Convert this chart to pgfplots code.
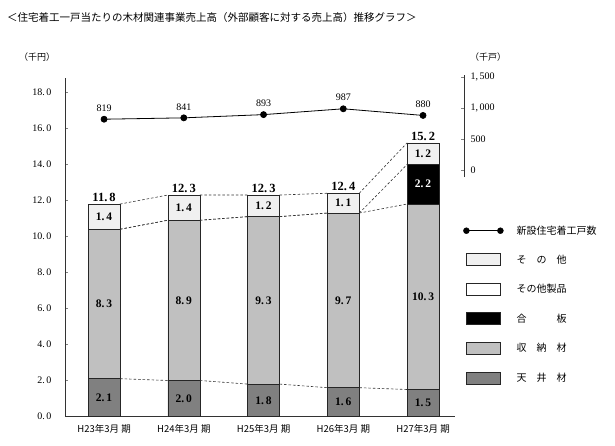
\documentclass[border=0pt]{standalone}
\usepackage{fontspec}
\setmainfont{Liberation Serif}
\newfontfamily\jp{Noto Sans CJK JP}
\usepackage{pgfplots}
\pgfplotsset{compat=1.18}
\definecolor{cTen}{HTML}{808080}
\definecolor{cShu}{HTML}{C0C0C0}
\definecolor{cSono}{HTML}{F0F0F0}
\begin{document}
\begin{tikzpicture}[x=1pt,y=1pt]
\path[use as bounding box] (0,0) rectangle (615,445);
% title and unit labels
\node[anchor=west,inner sep=0pt,font=\jp\fontsize{10.5}{12}\selectfont] at (7,427) {＜住宅着工一戸当たりの木材関連事業売上高（外部顧客に対する売上高）推移グラフ＞};
\node[anchor=center,inner sep=0pt,font=\jp\fontsize{9}{11}\selectfont] at (37,388) {（千円）};
\node[anchor=center,inner sep=0pt,font=\jp\fontsize{9}{11}\selectfont] at (488,388) {（千戸）};

% ---- stacked bars ----
\begin{axis}[
  at={(65pt,28.5pt)}, anchor=south west, scale only axis,
  width=390pt, height=338.5pt,
  xmin=-0.49, xmax=4.40, ymin=0, ymax=18.8,
  axis x line*=bottom, axis y line*=left,
  axis line style={black!80, line width=0.6pt},
  ybar stacked, bar width=32pt,
  tick align=inside, major tick length=3pt,
  ytick={0,2,...,18},
  yticklabel={\pgfmathprintnumber[fixed,fixed zerofill,precision=1,assume math mode=true,set decimal separator={.\,}]{\tick}},
  yticklabel style={font=\fontsize{10}{12}\selectfont, xshift=-10pt},
  xtick={0,1,2,3,4},
  xticklabels={H23年3月 期,H24年3月 期,H25年3月 期,H26年3月 期,H27年3月 期},
  xticklabel style={font=\jp\fontsize{9.5}{11}\selectfont, yshift=-4pt},
  xtick style={draw=none},
  every axis plot/.append style={draw=black!85, line width=0.6pt},
]
\addplot[fill=cTen] coordinates {(0,2.1) (1,2.0) (2,1.8) (3,1.6) (4,1.5)};
\addplot[fill=cShu] coordinates {(0,8.3) (1,8.9) (2,9.3) (3,9.7) (4,10.3)};
\addplot[fill=black] coordinates {(0,0) (1,0) (2,0) (3,0) (4,2.2)};
\addplot[fill=white] coordinates {(0,0) (1,0) (2,0) (3,0) (4,0)};
\addplot[fill=cSono] coordinates {(0,1.4) (1,1.4) (2,1.2) (3,1.1) (4,1.2)};
\end{axis}

% ---- overlay: series lines, labels, legend ----
\begin{axis}[
  at={(65pt,28.5pt)}, anchor=south west, scale only axis,
  width=390pt, height=338.5pt,
  xmin=-0.49, xmax=4.40, ymin=0, ymax=18.8,
  hide axis, clip=false,
  legend cell align=left,
  legend style={at={(1.0205,0.5657)}, anchor=north west, draw=none, fill=none,
    inner sep=0pt, row sep=17pt,
    nodes={inner sep=0pt, font=\jp\fontsize{10}{12}\selectfont, text height=9pt, text depth=2pt},
    /tikz/every odd column/.append style={column sep=13pt}},
]
\addplot[black!80, dash pattern=on 2.5pt off 2pt, line width=0.6pt, unbounded coords=jump, forget plot] coordinates {
 (0.2,2.1) (0.8,2.0) (1,nan) (1.2,2.0) (1.8,1.8) (2,nan) (2.2,1.8) (2.8,1.6) (3,nan) (3.2,1.6) (3.8,1.5)};
\addplot[black!80, dash pattern=on 2.5pt off 2pt, line width=0.6pt, unbounded coords=jump, forget plot] coordinates {
 (0.2,10.4) (0.8,10.9) (1,nan) (1.2,10.9) (1.8,11.1) (2,nan) (2.2,11.1) (2.8,11.3) (3,nan) (3.2,11.3) (3.8,11.8)};
\addplot[black!80, dash pattern=on 2.5pt off 2pt, line width=0.6pt, unbounded coords=jump, forget plot] coordinates {
 (0.2,10.4) (0.8,10.9) (1,nan) (1.2,10.9) (1.8,11.1) (2,nan) (2.2,11.1) (2.8,11.3) (3,nan) (3.2,11.3) (3.8,14.0)};
\addplot[black!80, dash pattern=on 2.5pt off 2pt, line width=0.6pt, unbounded coords=jump, forget plot] coordinates {
 (0.2,11.8) (0.8,12.3) (1,nan) (1.2,12.3) (1.8,12.3) (2,nan) (2.2,12.3) (2.8,12.4) (3,nan) (3.2,12.4) (3.8,15.2)};
% segment labels
\addplot[draw=none, mark=none, forget plot, point meta=explicit symbolic, nodes near coords,
  nodes near coords style={anchor=center, font=\bfseries\fontsize{11.5}{12}\selectfont}] coordinates {
 (0,1.05) [2.\,1] (1,1.0) [2.\,0] (2,0.9) [1.\,8] (3,0.8) [1.\,6] (4,0.75) [1.\,5]
 (0,6.25) [8.\,3] (1,6.45) [8.\,9] (2,6.45) [9.\,3] (3,6.45) [9.\,7] (4,6.65) [10.\,3]
 (0,11.1) [1.\,4] (1,11.6) [1.\,4] (2,11.7) [1.\,2] (3,11.85) [1.\,1] (4,14.6) [1.\,2]};
\addplot[draw=none, mark=none, forget plot, point meta=explicit symbolic, nodes near coords,
  nodes near coords style={anchor=center, text=white, font=\bfseries\fontsize{11.5}{12}\selectfont}] coordinates {
 (4,12.9) [2.\,2]};
% totals
\addplot[draw=none, mark=none, forget plot, point meta=explicit symbolic, nodes near coords,
  nodes near coords style={anchor=south, yshift=-1pt, font=\bfseries\fontsize{12.5}{13}\selectfont}] coordinates {
 (0,11.8) [11.\,8] (1,12.3) [12.\,3] (2,12.3) [12.\,3] (3,12.4) [12.\,4] (4,15.2) [15.\,2]};
% legend entries
\addlegendimage{legend image code/.code={\draw[black, line width=0.8pt] (0pt,0pt) -- (34pt,0pt); \fill[black] (0pt,0pt) circle (3pt); \fill[black] (34pt,0pt) circle (3pt);}}
\addlegendentry{新設住宅着工戸数}
\addlegendimage{legend image code/.code={\draw[black!85, line width=0.6pt, fill=cSono] (0pt,-6pt) rectangle (34pt,6pt);}}
\addlegendentry{そ　の　他}
\addlegendimage{legend image code/.code={\draw[black!85, line width=0.6pt, fill=white] (0pt,-6pt) rectangle (34pt,6pt);}}
\addlegendentry{その他製品}
\addlegendimage{legend image code/.code={\draw[black!85, line width=0.6pt, fill=black] (0pt,-6pt) rectangle (34pt,6pt);}}
\addlegendentry{合　　　板}
\addlegendimage{legend image code/.code={\draw[black!85, line width=0.6pt, fill=cShu] (0pt,-6pt) rectangle (34pt,6pt);}}
\addlegendentry{収　納　材}
\addlegendimage{legend image code/.code={\draw[black!85, line width=0.6pt, fill=cTen] (0pt,-6pt) rectangle (34pt,6pt);}}
\addlegendentry{天　井　材}
\end{axis}

% ---- line on right axis ----
\begin{axis}[
  at={(65pt,268pt)}, anchor=south west, scale only axis,
  width=399pt, height=102pt,
  xmin=-0.49, xmax=4.514, ymin=-113, ymax=1532,
  axis y line*=right, axis x line=none,
  axis line style={black!80, line width=0.6pt},
  tick align=inside, major tick length=3pt,
  ytick={0,500,1000,1500},
  yticklabels={0,500,{1,\,000},{1,\,500}},
  yticklabel style={font=\fontsize{10}{12}\selectfont, xshift=3pt},
  clip=false,
]
\addplot[black, line width=0.8pt, mark=*, mark size=3pt,
  point meta=explicit symbolic, nodes near coords,
  nodes near coords style={anchor=south, yshift=4pt, font=\fontsize{10}{12}\selectfont}] coordinates {
 (0,819) [819] (1,841) [841] (2,893) [893] (3,987) [987] (4,880) [880]};
\end{axis}
\end{tikzpicture}
\end{document}
